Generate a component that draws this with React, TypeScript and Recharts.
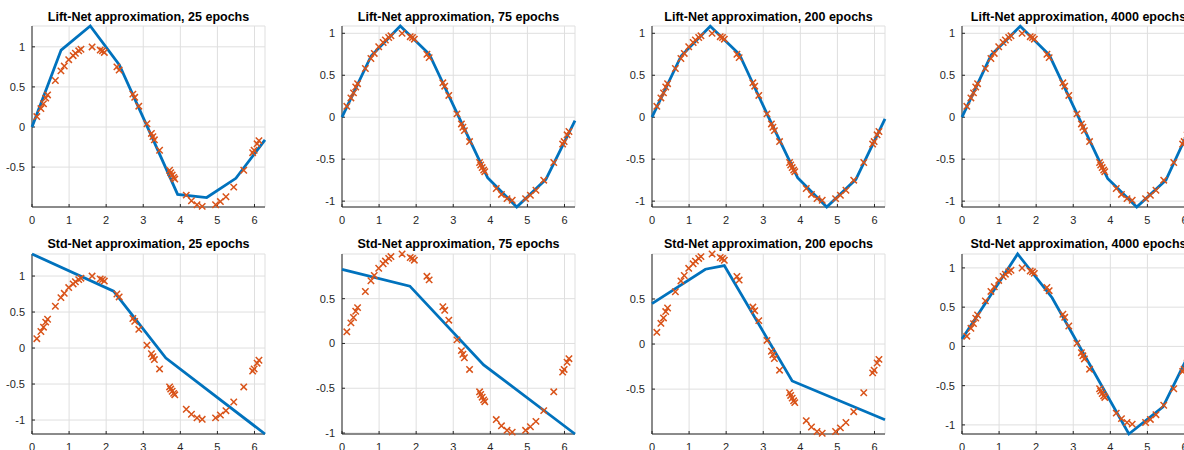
import { ScatterChart, Scatter, XAxis, YAxis, CartesianGrid } from 'recharts';

// training samples (same in every panel)
const sampleX = [0.13, 0.24, 0.31, 0.37, 0.42, 0.63, 0.78, 0.87, 0.99, 1.11, 1.17, 1.26, 1.32, 1.62, 1.84, 1.9, 1.95, 2.29, 2.35, 2.72, 2.77, 2.88, 3.1, 3.22, 3.26, 3.3, 3.44, 3.71, 3.74, 3.78, 3.82, 3.85, 4.16, 4.3, 4.45, 4.59, 4.95, 5.08, 5.23, 5.44, 5.71, 5.95, 5.99, 6.07, 6.12];
const sampleY = [0.13, 0.23, 0.29, 0.36, 0.4, 0.58, 0.7, 0.76, 0.84, 0.89, 0.92, 0.95, 0.97, 0.999, 0.96, 0.95, 0.93, 0.75, 0.71, 0.41, 0.37, 0.26, 0.04, -0.08, -0.12, -0.16, -0.29, -0.54, -0.57, -0.6, -0.63, -0.65, -0.85, -0.92, -0.97, -0.99, -0.97, -0.93, -0.87, -0.75, -0.54, -0.32, -0.29, -0.21, -0.17];

// network outputs (knots of the piecewise linear fit)
const liftX = [0, 0.785, 1.571, 2.356, 3.142, 3.927, 4.712, 5.498, 6.283];
const lift25Y = [0, 0.96, 1.26, 0.775, -0.03, -0.84, -0.88, -0.64, -0.16];
const lift75Y = [0, 0.73, 1.087, 0.75, 0.01, -0.72, -1.07, -0.74, -0.04];
const lift200Y = [0, 0.73, 1.085, 0.75, 0.0, -0.72, -1.07, -0.74, -0.02];
const lift4000Y = [0, 0.74, 1.085, 0.74, 0.0, -0.73, -1.07, -0.75, 0.0];
const std25X = [0, 2.2, 3.61, 6.283];
const std25Y = [1.306, 0.79, -0.14, -1.194];
const std75X = [0, 1.83, 3.82, 6.283];
const std75Y = [0.827, 0.64, -0.24, -1.011];
const std200X = [0, 1.44, 1.95, 3.78, 6.283];
const std200Y = [0.448, 0.83, 0.87, -0.41, -0.84];
const std4000X = [0, 1.5, 2.43, 4.5, 5.42, 6.283];
const std4000Y = [0.094, 1.177, 0.62, -1.116, -0.77, 0.06];

const titles = [
  'Lift-Net approximation, 25 epochs',
  'Lift-Net approximation, 75 epochs',
  'Lift-Net approximation, 200 epochs',
  'Lift-Net approximation, 4000 epochs',
  'Std-Net approximation, 25 epochs',
  'Std-Net approximation, 75 epochs',
  'Std-Net approximation, 200 epochs',
  'Std-Net approximation, 4000 epochs',
];

const xTicks = [0, 1, 2, 3, 4, 5, 6];
const yTicksList = [
  [-0.5, 0, 0.5, 1],
  [-1, -0.5, 0, 0.5, 1],
  [-1, -0.5, 0, 0.5, 1],
  [-1, -0.5, 0, 0.5, 1],
  [-1, -0.5, 0, 0.5, 1],
  [-1, -0.5, 0, 0.5],
  [-0.5, 0, 0.5],
  [-1, -0.5, 0, 0.5, 1],
];
const yDomains: [number, number][] = [
  [-0.998, 1.26],
  [-1.07, 1.087],
  [-1.07, 1.087],
  [-1.07, 1.087],
  [-1.194, 1.306],
  [-1.011, 0.999],
  [-0.998, 0.999],
  [-1.116, 1.177],
];

const zip = (xs: number[], ys: number[]) => xs.map((x, i) => ({ x, y: ys[i] }));
const samples = zip(sampleX, sampleY);
const fits = [
  zip(liftX, lift25Y),
  zip(liftX, lift75Y),
  zip(liftX, lift200Y),
  zip(liftX, lift4000Y),
  zip(std25X, std25Y),
  zip(std75X, std75Y),
  zip(std200X, std200Y),
  zip(std4000X, std4000Y),
];

const X_MAX = 6.2832;
const PLOT_W = 233;
const COL_LEFT = [32, 342, 652, 962];
const ROW_TOP = [26, 254];
const ROW_H = [181, 180];
const TITLE_TOP = [11, 237.5];
const AXIS_W = 40;
const AXIS_H = 24;
const PAD_R = 12;
const PAD_T = 4;

const FONT = '"Liberation Sans", Arial, Helvetica, sans-serif';
const BLUE = '#0072BD';
const ORANGE = '#D95319';
const DARK = '#262626';

const XMark = (props: any) => {
  const { cx, cy } = props;
  if (cx == null || cy == null) return <g />;
  const r = 3.2;
  return (
    <path
      d={`M${cx - r},${cy - r}L${cx + r},${cy + r}M${cx - r},${cy + r}L${cx + r},${cy - r}`}
      stroke={ORANGE}
      strokeWidth={1.5}
      fill="none"
    />
  );
};

const NoMark = () => <g />;

function Panel({ idx }: { idx: number }) {
  const c = idx % 4;
  const r = Math.floor(idx / 4);
  const w = AXIS_W + PLOT_W + PAD_R;
  const h = PAD_T + ROW_H[r] + AXIS_H;
  const tickStyle = { fontSize: 11, fill: DARK, fontFamily: FONT };
  return (
    <>
      <div
        style={{
          position: 'absolute',
          left: COL_LEFT[c],
          top: TITLE_TOP[r],
          width: PLOT_W,
          textAlign: 'center',
          fontFamily: FONT,
          fontWeight: 'bold',
          fontSize: 12.5,
          lineHeight: '12.5px',
          whiteSpace: 'nowrap',
          color: '#000',
        }}
      >
        {titles[idx]}
      </div>
      <div style={{ position: 'absolute', left: COL_LEFT[c] - AXIS_W, top: ROW_TOP[r] - PAD_T, width: w, height: h }}>
        <ScatterChart width={w} height={h} margin={{ top: PAD_T, right: PAD_R, bottom: 0, left: 0 }}>
          <CartesianGrid stroke="#dfdfdf" />
          <XAxis
            type="number"
            dataKey="x"
            domain={[0, X_MAX]}
            ticks={xTicks}
            height={AXIS_H}
            tickSize={-3}
            tickMargin={12}
            stroke={DARK}
            tick={tickStyle}
          />
          <XAxis
            xAxisId="top"
            orientation="top"
            type="number"
            dataKey="x"
            domain={[0, X_MAX]}
            ticks={xTicks}
            height={0}
            tickSize={-3}
            stroke={DARK}
            tickFormatter={() => ''}
          />
          <YAxis
            type="number"
            dataKey="y"
            domain={yDomains[idx]}
            ticks={yTicksList[idx]}
            width={AXIS_W}
            tickSize={-3}
            tickMargin={10}
            stroke={DARK}
            tick={tickStyle}
          />
          <YAxis
            yAxisId="right"
            orientation="right"
            type="number"
            dataKey="y"
            domain={yDomains[idx]}
            ticks={yTicksList[idx]}
            width={0}
            tickSize={-3}
            stroke={DARK}
            tickFormatter={() => ''}
          />
          <Scatter
            data={fits[idx]}
            line={{ stroke: BLUE, strokeWidth: 2.8 }}
            lineType="joint"
            shape={NoMark}
            isAnimationActive={false}
          />
          <Scatter data={samples} shape={XMark} isAnimationActive={false} />
        </ScatterChart>
      </div>
    </>
  );
}

export default function App() {
  return (
    <div
      style={{
        position: 'absolute',
        left: 0,
        top: 0,
        width: 1184,
        height: 450,
        overflow: 'hidden',
        background: '#fff',
      }}
    >
      {titles.map((_, i) => (
        <Panel key={i} idx={i} />
      ))}
    </div>
  );
}
